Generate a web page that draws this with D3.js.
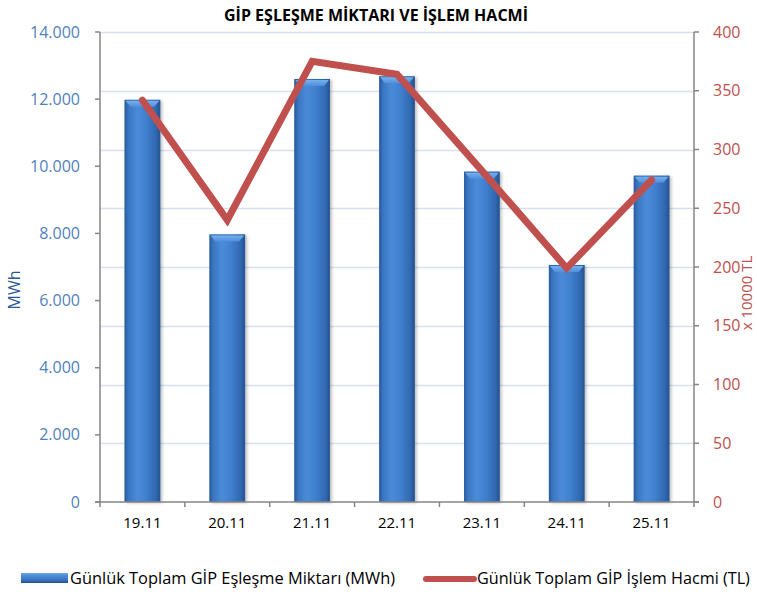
<!DOCTYPE html>
<html>
<head>
<meta charset="utf-8">
<script src="https://cdn.jsdelivr.net/npm/d3@7"></script>
<style>
  html, body { margin: 0; padding: 0; background: #fff; }
  svg { display: block; font-family: "Open Sans", sans-serif; }
</style>
</head>
<body>
<svg id="chart" width="757" height="594"></svg>
<script>
const categories = ["19.11", "20.11", "21.11", "22.11", "23.11", "24.11", "25.11"];
const matchedMWh = [11980, 7970, 12600, 12680, 9840, 7060, 9720];
const volumeTL10k = [342, 240, 375, 364, 282, 199, 274];
const leftTicks = [0, 2000, 4000, 6000, 8000, 10000, 12000, 14000];
const rightTicks = [0, 50, 100, 150, 200, 250, 300, 350, 400];
const titleText = "GİP EŞLEŞME MİKTARI VE İŞLEM HACMİ";
const leftLabel = "MWh";
const rightLabel = "x 10000 TL";
const legendLabels = ["Günlük Toplam GİP Eşleşme Miktarı (MWh)", "Günlük Toplam GİP İşlem Hacmi (TL)"];

const svg = d3.select("#chart");
const m = { left: 100, right: 694, top: 32, bottom: 502 };

const x = d3.scaleBand().domain(categories).range([m.left, m.right]).padding(0);
const yL = d3.scaleLinear().domain([0, 14000]).range([m.bottom, m.top]);
const yR = d3.scaleLinear().domain([0, 400]).range([m.bottom, m.top]);
const fmt = d3.format(",");
const trFmt = v => fmt(v).replace(/,/g, ".");

const defs = svg.append("defs");
const gH = defs.append("linearGradient").attr("id", "barH").attr("x1", 0).attr("x2", 1).attr("y1", 0).attr("y2", 0);
[[0, "#2a5c9e"], [0.12, "#3b78c4"], [0.35, "#4a8bd8"], [0.6, "#4080cf"], [0.88, "#3068b0"], [1, "#24508c"]]
  .forEach(([o, c]) => gH.append("stop").attr("offset", o).attr("stop-color", c));
const gCap = defs.append("linearGradient").attr("id", "barCap").attr("x1", 0).attr("x2", 0).attr("y1", 0).attr("y2", 1);
[[0, "#78b0ee"], [1, "#4f8edb"]].forEach(([o, c]) => gCap.append("stop").attr("offset", o).attr("stop-color", c));
const gV = defs.append("linearGradient").attr("id", "legV").attr("x1", 0).attr("x2", 0).attr("y1", 0).attr("y2", 1);
[[0, "#6fa8ea"], [0.3, "#4a8bd8"], [0.7, "#3a74bd"], [1, "#24508c"]].forEach(([o, c]) => gV.append("stop").attr("offset", o).attr("stop-color", c));
const flt = defs.append("filter").attr("id", "shadow").attr("x", "-30%").attr("y", "-10%").attr("width", "160%").attr("height", "130%");
flt.append("feDropShadow").attr("dx", 2).attr("dy", 1).attr("stdDeviation", 1.5).attr("flood-color", "#000").attr("flood-opacity", 0.25);

// gridlines (at right-axis ticks)
svg.append("g").selectAll("line").data(rightTicks.filter(d => d > 0)).join("line")
  .attr("x1", m.left).attr("x2", m.right)
  .attr("y1", d => Math.round(yR(d)) + 0.5).attr("y2", d => Math.round(yR(d)) + 0.5)
  .attr("stroke", "#d6e0ef").attr("stroke-width", 1.5);

// bars
const bw = x.bandwidth() * 0.42;
const bars = svg.append("g");
categories.forEach((c, i) => {
  const cx = x(c) + x.bandwidth() / 2;
  const x0 = cx - bw / 2, x1 = cx + bw / 2;
  const y0 = yL(matchedMWh[i]);
  const g = bars.append("g");
  g.append("rect").attr("x", x0).attr("y", y0).attr("width", bw).attr("height", m.bottom - y0)
    .attr("fill", "url(#barH)").attr("filter", "url(#shadow)");
  g.append("rect").attr("x", x0 + 0.5).attr("y", y0 + 0.5).attr("width", bw - 1).attr("height", m.bottom - y0 - 1)
    .attr("fill", "none").attr("stroke", "#2d5e9c").attr("stroke-width", 1).attr("stroke-opacity", 0.6);
  g.append("polygon")
    .attr("points", [[x0 + 1, y0 + 1], [x1 - 1, y0 + 1], [x1 - 6, y0 + 7], [x0 + 6, y0 + 7]].map(p => p.join(",")).join(" "))
    .attr("fill", "url(#barCap)");
});

// axes lines
const axisColor = "#868686";
svg.append("line").attr("x1", m.left).attr("x2", m.left).attr("y1", m.top).attr("y2", m.bottom).attr("stroke", axisColor).attr("stroke-width", 1.5);
svg.append("line").attr("x1", m.right).attr("x2", m.right).attr("y1", m.top).attr("y2", m.bottom).attr("stroke", axisColor).attr("stroke-width", 1.5);
svg.append("line").attr("x1", m.left - 5).attr("x2", m.right + 5).attr("y1", m.bottom).attr("y2", m.bottom).attr("stroke", axisColor).attr("stroke-width", 1.5);

// left ticks
const gl = svg.append("g");
gl.selectAll("line").data(leftTicks).join("line")
  .attr("x1", m.left - 5).attr("x2", m.left).attr("y1", d => yL(d)).attr("y2", d => yL(d))
  .attr("stroke", axisColor).attr("stroke-width", 1.5);
gl.selectAll("text").data(leftTicks).join("text")
  .attr("x", 80).attr("y", d => yL(d)).attr("dy", "0.35em").attr("text-anchor", "end")
  .attr("fill", "#4f81bd").attr("font-size", 16).text(d => trFmt(d));

// right ticks
const gr = svg.append("g");
gr.selectAll("line").data(rightTicks).join("line")
  .attr("x1", m.right).attr("x2", m.right + 5).attr("y1", d => yR(d)).attr("y2", d => yR(d))
  .attr("stroke", axisColor).attr("stroke-width", 1.5);
gr.selectAll("text").data(rightTicks).join("text")
  .attr("x", 713).attr("y", d => yR(d)).attr("dy", "0.35em").attr("text-anchor", "start")
  .attr("fill", "#c0504d").attr("font-size", 16).text(d => d);

// x ticks
const bounds = categories.map(c => x(c)).concat([m.right]);
svg.append("g").selectAll("line").data(bounds).join("line")
  .attr("x1", d => d).attr("x2", d => d).attr("y1", m.bottom).attr("y2", m.bottom + 5)
  .attr("stroke", axisColor).attr("stroke-width", 1.5);
svg.append("g").selectAll("text").data(categories).join("text")
  .attr("x", d => x(d) + x.bandwidth() / 2).attr("y", 528).attr("text-anchor", "middle")
  .attr("fill", "#000").attr("font-size", 15).text(d => d);

// line
const line = d3.line().x((d, i) => x(categories[i]) + x.bandwidth() / 2).y(d => yR(d));
svg.append("path").datum(volumeTL10k).attr("d", line)
  .attr("fill", "none").attr("stroke", "#c0504d").attr("stroke-width", 7)
  .attr("stroke-linejoin", "miter").attr("stroke-linecap", "round");

// title
svg.append("text").attr("x", 376).attr("y", 21).attr("text-anchor", "middle")
  .attr("font-weight", "bold").attr("font-size", 16).attr("fill", "#000").text(titleText);

// axis titles
svg.append("text").attr("transform", "translate(20,290) rotate(-90)").attr("text-anchor", "middle")
  .attr("fill", "#2a5894").attr("font-size", 16).text(leftLabel);
svg.append("text").attr("transform", "translate(752,293) rotate(-90)").attr("text-anchor", "middle")
  .attr("fill", "#c0504d").attr("font-size", 15).text(rightLabel);

// legend
const lg = svg.append("g");
lg.append("rect").attr("x", 21).attr("y", 573).attr("width", 47).attr("height", 10).attr("fill", "url(#legV)");
lg.append("text").attr("x", 70).attr("y", 584).attr("font-size", 16.4).attr("fill", "#000").text(legendLabels[0]);
lg.append("line").attr("x1", 426).attr("x2", 474).attr("y1", 579).attr("y2", 579)
  .attr("stroke", "#c0504d").attr("stroke-width", 6).attr("stroke-linecap", "round");
lg.append("text").attr("x", 477).attr("y", 584).attr("font-size", 16.2).attr("fill", "#000").text(legendLabels[1]);
</script>
</body>
</html>
